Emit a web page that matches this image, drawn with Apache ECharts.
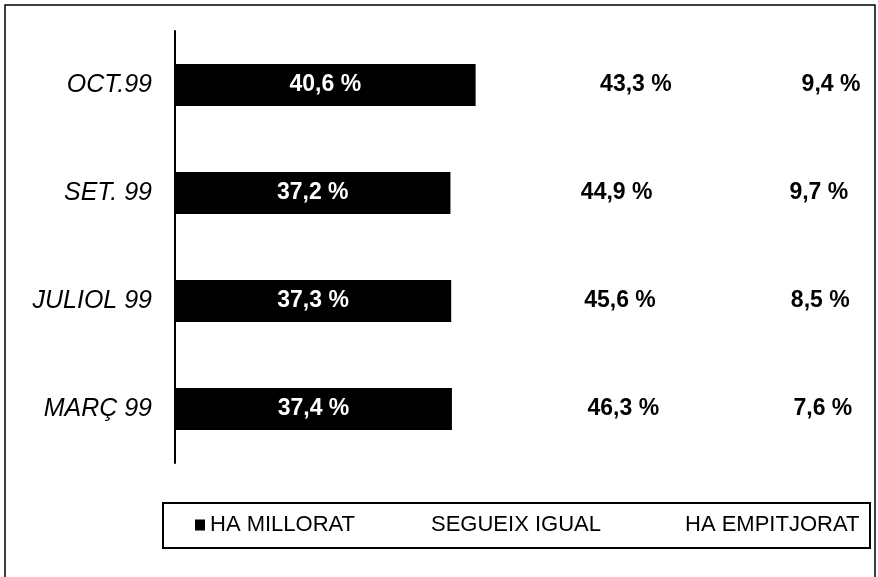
<!DOCTYPE html>
<html>
<head>
<meta charset="utf-8">
<script src="https://cdn.jsdelivr.net/npm/echarts@6/dist/echarts.min.js"></script>
<style>
  html, body { margin: 0; padding: 0; background: #fff; }
  #chart { width: 878px; height: 577px; }
</style>
</head>
<body>
<div id="chart"></div>
<script>
// dades llegides del grafic
var mesos = ['OCT.99', 'SET. 99', 'JULIOL 99', 'MARÇ 99'];
var haMillorat = [40.6, 37.2, 37.3, 37.4];
var segueixIgual = [43.3, 44.9, 45.6, 46.3];
var haEmpitjorat = [9.4, 9.7, 8.5, 7.6];

var font = 'Liberation Sans, Arial, sans-serif';

function pct(p) {
  return p.value.toFixed(1).replace('.', ',') + ' %';
}

function legenda(nom, left) {
  return {
    data: [nom],
    left: left,
    top: 514,
    padding: 0,
    itemWidth: 10,
    itemHeight: 11,
    icon: 'rect',
    textStyle: { fontFamily: font, fontSize: 22, color: '#000' }
  };
}

var chart = echarts.init(document.getElementById('chart'));
chart.setOption({
  animation: false,
  backgroundColor: '#fff',
  grid: { left: 175, top: 31, height: 432, width: 696 },
  xAxis: { type: 'value', min: 0, max: 94, show: false },
  yAxis: {
    type: 'category',
    inverse: true,
    data: mesos,
    axisLine: { show: true, lineStyle: { color: '#000', width: 2 } },
    axisTick: { show: false },
    axisLabel: {
      margin: 23,
      fontFamily: font,
      fontSize: 25,
      fontStyle: 'italic',
      color: '#000'
    }
  },
  legend: [
    legenda('HA MILLORAT', 195),
    legenda('SEGUEIX IGUAL', 416),
    legenda('HA EMPITJORAT', 670)
  ],
  graphic: [
    {
      type: 'rect',
      shape: { x: 5, y: 5, width: 870, height: 590 },
      style: { fill: 'none', stroke: '#000', lineWidth: 1.5 }
    },
    {
      type: 'rect',
      shape: { x: 163, y: 503, width: 707, height: 45 },
      style: { fill: 'none', stroke: '#000', lineWidth: 2 }
    }
  ],
  series: [
    {
      name: 'HA MILLORAT',
      type: 'bar',
      stack: 'total',
      barWidth: 42,
      data: haMillorat,
      itemStyle: { color: '#000' },
      label: {
        show: true, position: 'inside', formatter: pct,
        fontFamily: font, fontSize: 23, fontWeight: 'bold', color: '#fff'
      }
    },
    {
      name: 'SEGUEIX IGUAL',
      type: 'bar',
      stack: 'total',
      data: segueixIgual,
      itemStyle: { color: 'rgba(255,255,255,0)' },
      label: {
        show: true, position: 'inside', formatter: pct,
        fontFamily: font, fontSize: 23, fontWeight: 'bold', color: '#000'
      }
    },
    {
      name: 'HA EMPITJORAT',
      type: 'bar',
      stack: 'total',
      data: haEmpitjorat,
      itemStyle: { color: 'rgba(255,255,255,0)' },
      label: {
        show: true, position: 'inside', formatter: pct,
        fontFamily: font, fontSize: 23, fontWeight: 'bold', color: '#000'
      }
    }
  ]
});
</script>
</body>
</html>
